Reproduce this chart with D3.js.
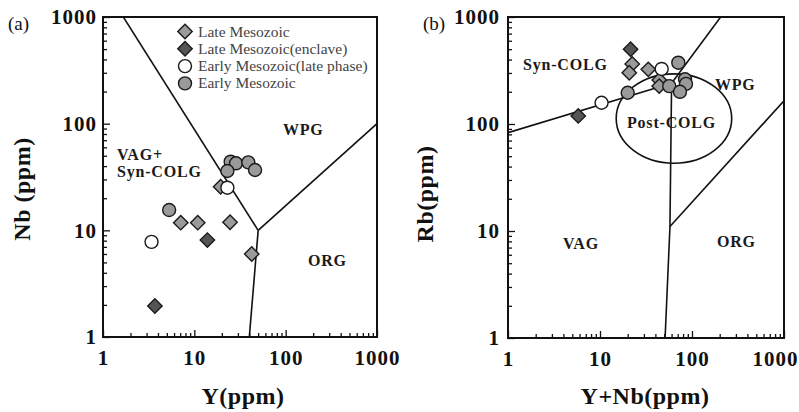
<!DOCTYPE html>
<html>
<head>
<meta charset="utf-8">
<script src="https://cdn.jsdelivr.net/npm/d3@7"></script>
<style>
  body { margin: 0; background: #fff; }
  svg { display: block; }
</style>
</head>
<body>
<div id="chart"></div>
<script>
// panel (a): Nb vs Y
var aLateY = [19.4, 7.1, 10.9, 24.6, 42.5];
var aLateNb = [25.6, 11.8, 11.8, 11.9, 6.0];
var aEnclaveY = [13.9, 3.7];
var aEnclaveNb = [8.1, 1.95];
var aLatePhaseY = [23, 3.4];
var aLatePhaseNb = [25.1, 7.8];
var aEarlyY = [25.0, 28.6, 39, 46.2, 23.0, 5.3];
var aEarlyNb = [44.0, 42.5, 43.4, 36.8, 36.0, 15.5];

// panel (b): Rb vs Y+Nb
var bLateYNb = [22.4, 20.8, 33.5, 44.1, 44];
var bLateRb = [364, 301, 324, 258, 226];
var bEnclaveYNb = [21.5, 5.8];
var bEnclaveRb = [499, 119];
var bLatePhaseYNb = [46.8, 10.4];
var bLatePhaseRb = [327, 158];
var bEarlyYNb = [71, 56.6, 84, 86, 74, 20];
var bEarlyRb = [374, 226, 262, 237, 200, 196];

// field boundaries (data coords)
var aLines = [
    [[1, 2000], [50, 10]],
    [[40, 1], [50, 10]],
    [[50, 10], [1000, 100]]
];
var bLines = [
    [[1, 83], [60, 240]],
    [[60, 240], [205, 1000]],
    [[60, 240], [57.6, 11], [51, 1]],
    [[57.6, 11], [1000, 165]]
];
var bEllipseX = [15, 270];
var bEllipseY = [43, 294];

var majorTicks = [1, 10, 100, 1000];
var seriesNames = ['Late Mesozoic', 'Late Mesozoic(enclave)', 'Early Mesozoic(late phase)', 'Early Mesozoic'];

var serif = '"Liberation Serif", "Times New Roman", serif';
var styles = [
    { shape: 'diamond', fill: '#9a9a9a' },
    { shape: 'diamond', fill: '#555555' },
    { shape: 'circle', fill: '#ffffff' },
    { shape: 'circle', fill: '#9a9a9a' }
];

var svg = d3.select('#chart')
    .append('svg')
    .attr('width', 799)
    .attr('height', 412);

function minorTicks() {
    var t = [];
    for (let d = 1; d < 1000; d *= 10) {
        for (let k = 2; k < 10; k++) t.push(d * k);
    }
    return t;
}

function drawMarker(g, style, cx, cy) {
    if (style.shape == 'circle') {
        g.append('circle')
            .attr('cx', cx)
            .attr('cy', cy)
            .attr('r', 6.5)
            .attr('fill', style.fill)
            .attr('stroke', '#1a1a1a')
            .attr('stroke-width', 1.4);
    } else {
        g.append('path')
            .attr('d', d3.symbol(d3.symbolSquare, 104)())
            .attr('transform', 'translate(' + cx + ',' + cy + ') rotate(45)')
            .attr('fill', style.fill)
            .attr('stroke', '#1a1a1a')
            .attr('stroke-width', 1.4);
    }
}

function drawPanel(p) {
    var x = d3.scaleLog().domain([1, 1000]).range([p.left, p.right]);
    var y = d3.scaleLog().domain([1, 1000]).range([p.bottom, p.top]);
    var g = svg.append('g');

    // minor + major ticks, inside
    g.append('g')
        .attr('transform', 'translate(0,' + p.bottom + ')')
        .call(d3.axisBottom(x).tickValues(minorTicks()).tickSize(-4).tickFormat(''))
        .call(a => a.select('.domain').remove());
    g.append('g')
        .attr('transform', 'translate(' + p.left + ',0)')
        .call(d3.axisLeft(y).tickValues(minorTicks()).tickSize(-4).tickFormat(''))
        .call(a => a.select('.domain').remove());

    var xAxis = g.append('g')
        .attr('transform', 'translate(0,' + p.bottom + ')')
        .call(d3.axisBottom(x).tickValues(majorTicks).tickSize(-7).tickPadding(13).tickFormat(d3.format('d')));
    var yAxis = g.append('g')
        .attr('transform', 'translate(' + p.left + ',0)')
        .call(d3.axisLeft(y).tickValues(majorTicks).tickSize(-7).tickPadding(p.ypad).tickFormat(d3.format('d')));

    [xAxis, yAxis].forEach(function(a) {
        a.select('.domain').remove();
        a.selectAll('text')
            .attr('font-family', serif)
            .attr('font-size', '21px')
            .attr('font-weight', 'bold')
            .attr('letter-spacing', '1px')
            .attr('fill', '#111');
    });
    // last x label sits against the page edge in panel (b)
    xAxis.selectAll('.tick text')
        .filter(d => d == 1000)
        .attr('x', p.lastShift || 0);
    g.selectAll('.tick line').attr('stroke', '#111').attr('stroke-width', 1.3);

    // clip for boundaries
    g.append('clipPath')
        .attr('id', p.id + '-clip')
        .append('rect')
        .attr('x', p.left)
        .attr('y', p.top)
        .attr('width', p.right - p.left)
        .attr('height', p.bottom - p.top);

    var lg = g.append('g').attr('clip-path', 'url(#' + p.id + '-clip)');
    var line = d3.line().x(d => x(d[0])).y(d => y(d[1]));
    lg.selectAll('path.bound')
        .data(p.lines)
        .enter()
        .append('path')
        .attr('class', 'bound')
        .attr('d', line)
        .attr('fill', 'none')
        .attr('stroke', '#111')
        .attr('stroke-width', 1.6);

    if (p.ellipseX) {
        lg.append('ellipse')
            .attr('cx', (x(p.ellipseX[0]) + x(p.ellipseX[1])) / 2)
            .attr('cy', (y(p.ellipseY[0]) + y(p.ellipseY[1])) / 2)
            .attr('rx', (x(p.ellipseX[1]) - x(p.ellipseX[0])) / 2)
            .attr('ry', (y(p.ellipseY[0]) - y(p.ellipseY[1])) / 2)
            .attr('fill', 'none')
            .attr('stroke', '#111')
            .attr('stroke-width', 1.6);
    }

    // field labels
    p.labels.forEach(function(l) {
        g.append('text')
            .attr('x', l[1])
            .attr('y', l[2])
            .attr('font-family', serif)
            .attr('font-size', '16px')
            .attr('font-weight', 'bold')
            .attr('letter-spacing', '0.8px')
            .attr('fill', '#1a1a1a')
            .text(l[0]);
    });

    // points
    var pg = g.append('g');
    p.series.forEach(function(s, i) {
        for (let k = 0; k < s[0].length; k++) {
            drawMarker(pg, styles[i], x(s[0][k]), y(s[1][k]));
        }
    });

    // frame
    g.append('rect')
        .attr('x', p.left)
        .attr('y', p.top)
        .attr('width', p.right - p.left)
        .attr('height', p.bottom - p.top)
        .attr('fill', 'none')
        .attr('stroke', '#111')
        .attr('stroke-width', 2);

    // panel tag
    g.append('text')
        .attr('x', p.tagX)
        .attr('y', 30)
        .attr('font-family', serif)
        .attr('font-size', '19px')
        .attr('fill', '#111')
        .text(p.tag);

    // axis titles
    g.append('text')
        .attr('x', (p.left + p.right) / 2 + p.xtOff)
        .attr('y', 404)
        .attr('text-anchor', 'middle')
        .attr('font-family', serif)
        .attr('font-size', '24px')
        .attr('font-weight', 'bold')
        .attr('letter-spacing', '0.5px')
        .attr('fill', '#111')
        .text(p.xTitle);

    g.append('text')
        .attr('transform', 'translate(' + p.ytX + ',' + p.ytY + ') rotate(-90)')
        .attr('text-anchor', 'middle')
        .attr('font-family', serif)
        .attr('font-size', '24px')
        .attr('font-weight', 'bold')
        .attr('letter-spacing', '0.5px')
        .attr('fill', '#111')
        .text(p.yTitle);

    return g;
}

var ga = drawPanel({
    id: 'pa', left: 103, right: 377, top: 17, bottom: 337, ypad: 6,
    lines: aLines,
    series: [[aLateY, aLateNb], [aEnclaveY, aEnclaveNb], [aLatePhaseY, aLatePhaseNb], [aEarlyY, aEarlyNb]],
    labels: [['WPG', 283, 135], ['VAG+', 117, 160], ['Syn-COLG', 117, 177], ['ORG', 308, 266]],
    tag: '(a)', tagX: 8,
    xTitle: 'Y(ppm)', xtOff: 3,
    yTitle: 'Nb (ppm)', ytX: 30, ytY: 189
});

drawPanel({
    id: 'pb', left: 508, right: 784, top: 17, bottom: 338, ypad: 8,
    lastShift: -9,
    lines: bLines,
    ellipseX: bEllipseX, ellipseY: bEllipseY,
    series: [[bLateYNb, bLateRb], [bEnclaveYNb, bEnclaveRb], [bLatePhaseYNb, bLatePhaseRb], [bEarlyYNb, bEarlyRb]],
    labels: [['Syn-COLG', 523, 70], ['WPG', 715, 90], ['Post-COLG', 627, 128], ['VAG', 563, 249], ['ORG', 717, 247]],
    tag: '(b)', tagX: 423,
    xTitle: 'Y+Nb(ppm)', xtOff: -1,
    yTitle: 'Rb(ppm)', ytX: 433, ytY: 194
});

// legend in panel (a)
var leg = ga.append('g');
seriesNames.forEach(function(name, i) {
    var cy = 31.5 + i * 17.3;
    drawMarker(leg, styles[i], 185, cy);
    leg.append('text')
        .attr('x', 198)
        .attr('y', cy + 5)
        .attr('font-family', serif)
        .attr('font-size', '15.5px')
        .attr('fill', '#444')
        .text(name);
});
</script>
</body>
</html>
